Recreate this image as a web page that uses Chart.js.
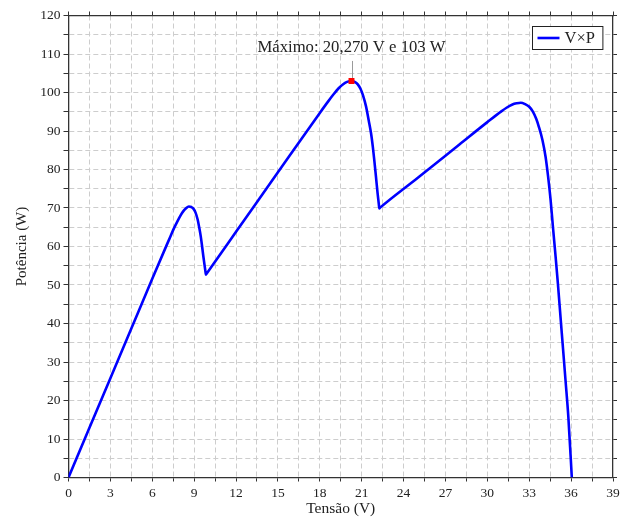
<!DOCTYPE html>
<html lang="pt">
<head>
<meta charset="utf-8">
<title>Curva P-V</title>
<script src="https://cdn.jsdelivr.net/npm/chart.js@4.4.0/dist/chart.umd.min.js"></script>
<style>
  html, body { margin: 0; padding: 0; background: #fff; }
  #wrap { width: 633px; height: 519px; }
</style>
</head>
<body>
<div id="wrap"><canvas id="pvChart" width="633" height="519"></canvas></div>
<script>
// curva potência x tensão do arranjo (sombreamento parcial, três picos)
const tensao = [
  0, 1.5, 3, 4.5, 6, 7, 7.3, 7.55, 7.8, 8.03, 8.2, 8.4, 8.62, 8.8, 8.93, 9.1, 9.25, 9.36, 9.47, 9.57, 9.66, 9.74, 9.82, 9.84, 9.9,
  12, 15, 18, 18.6, 19.0, 19.35, 19.65, 19.95, 20.27, 20.5, 20.72, 20.92, 21.1, 21.31, 21.5, 21.67, 21.8, 21.9, 22.02, 22.14, 22.23, 22.26, 22.32,
  25, 28, 30, 31, 31.4, 31.8, 32.1, 32.39, 32.7, 33.0, 33.25, 33.5, 33.69, 33.95, 34.17, 34.35, 34.53, 34.7, 34.89, 35.05, 35.24, 35.42, 35.6, 35.8, 36.05
];
const potencia = [
  0, 12.9, 25.8, 38.7, 51.6, 60.1, 62.6, 64.7, 66.55, 68.1, 69.05, 69.85, 70.4, 70.25, 69.9, 68.8, 67.0, 65.0, 62.7, 60.0, 57.4, 55.3, 53.2, 52.7, 53.0,
  63.8, 79.3, 94.7, 97.7, 99.6, 101.1, 102.1, 102.75, 103.0, 102.75, 102.1, 100.9, 99.2, 96.4, 92.8, 89.4, 85.8, 82.5, 78.2, 73.8, 70.9, 69.9, 70.1,
  77.8, 86.5, 92.3, 95.1, 96.1, 96.9, 97.2, 97.35, 97.0, 96.3, 95.1, 93.2, 91.1, 87.6, 83.3, 78.2, 72.1, 65.0, 57.3, 50.5, 41.7, 33.5, 25.2, 15.8, 0
];

// ponto de máxima potência
const maxTensao = 20.27;
const maxPotencia = 103;

// marcas rotuladas dos eixos
const xRotulos = [0, 3, 6, 9, 12, 15, 18, 21, 24, 27, 30, 33, 36, 39];
const yRotulos = [0, 10, 20, 30, 40, 50, 60, 70, 80, 90, 100, 110, 120];

const serif = "'Liberation Serif', 'Times New Roman', serif";
const corEixo = '#333333';
const corGrade = '#cdcdcd';

Chart.defaults.font.family = serif;
Chart.defaults.color = '#222222';

const fmt = v => String(v).replace('.', ',');

// legenda com moldura no canto superior direito
const legendaBox = {
  id: 'legendaBox',
  afterDraw(chart) {
    const { ctx, chartArea } = chart;
    const ds = chart.data.datasets[1];
    ctx.save();
    ctx.font = '16.5px ' + serif;
    const tw = ctx.measureText(ds.label).width;
    const w = 5 + 22 + 5 + tw + 8;
    const h = 23;
    const x0 = Math.round(chartArea.right - 11 - w) + 0.5;
    const y0 = Math.round(chartArea.top + 10) + 0.5;
    ctx.fillStyle = '#ffffff';
    ctx.fillRect(x0, y0, w, h);
    ctx.strokeStyle = '#222';
    ctx.lineWidth = 1;
    ctx.strokeRect(x0, y0, w, h);
    ctx.strokeStyle = ds.borderColor;
    ctx.lineWidth = 2.6;
    ctx.beginPath();
    ctx.moveTo(x0 + 5, y0 + h / 2);
    ctx.lineTo(x0 + 27, y0 + h / 2);
    ctx.stroke();
    ctx.fillStyle = '#222';
    ctx.textBaseline = 'middle';
    ctx.fillText(ds.label, x0 + 32, y0 + h / 2 + 1);
    ctx.restore();
  }
};

// rótulo do ponto de máxima potência
const rotuloMax = {
  id: 'rotuloMax',
  afterDatasetsDraw(chart) {
    const { ctx, scales } = chart;
    const px = scales.x.getPixelForValue(maxTensao);
    const py = scales.y.getPixelForValue(maxPotencia);
    ctx.save();
    ctx.strokeStyle = '#9a9a9a';
    ctx.lineWidth = 1;
    ctx.beginPath();
    ctx.moveTo(Math.round(px) + 0.5, py - 3);
    ctx.lineTo(Math.round(px) + 0.5, py - 20);
    ctx.stroke();
    ctx.font = '16.7px ' + serif;
    ctx.fillStyle = '#222';
    ctx.textAlign = 'center';
    ctx.textBaseline = 'alphabetic';
    ctx.fillText('Máximo: ' + maxTensao.toFixed(3).replace('.', ',') + ' V e ' + maxPotencia + ' W', px, py - 28.5);
    ctx.restore();
  }
};

const semBorda = (limite) => c => (c.tick && limite.includes(c.tick.value)) ? 'rgba(0,0,0,0)' : corGrade;

const ctx = document.getElementById('pvChart').getContext('2d');
new Chart(ctx, {
  type: 'line',
  data: {
    datasets: [{
      label: 'máximo',
      data: [{ x: maxTensao, y: maxPotencia }],
      showLine: false,
      pointStyle: 'rect',
      pointRadius: 4.2,
      pointBackgroundColor: '#ff0000',
      pointBorderWidth: 0,
      order: 0
    }, {
      label: 'V×P',
      data: tensao.map((v, i) => ({ x: v, y: potencia[i] })),
      borderColor: '#0000ff',
      borderWidth: 2.6,
      pointRadius: 0,
      cubicInterpolationMode: 'monotone',
      fill: false,
      order: 1
    }]
  },
  options: {
    responsive: false,
    animation: false,
    events: [],
    layout: { padding: 0 },
    plugins: {
      legend: { display: false },
      tooltip: { enabled: false }
    },
    scales: {
      x: {
        type: 'linear',
        position: 'bottom',
        min: 0,
        max: 39,
        afterFit: s => { s.height = 41.5; },
        border: { color: corEixo, width: 1.3, dash: [5, 3] },
        grid: { color: semBorda([0, 39]), lineWidth: 1, tickLength: 4, tickColor: corEixo, tickWidth: 1 },
        ticks: {
          stepSize: 1.5,
          autoSkip: false,
          maxRotation: 0,
          padding: 4,
          font: { size: 13.5 },
          callback: v => xRotulos.includes(v) ? fmt(v) : ''
        },
        title: { display: true, text: 'Tensão (V)', font: { size: 15.5 }, padding: { top: 0, bottom: 1 } }
      },
      x2: {
        type: 'linear',
        position: 'top',
        min: 0,
        max: 39,
        afterFit: s => { s.height = 15.5; },
        border: { color: corEixo, width: 1.3 },
        grid: { drawOnChartArea: false, tickLength: 4, tickColor: corEixo, tickWidth: 1 },
        ticks: { stepSize: 1.5, autoSkip: false, callback: () => '' }
      },
      y: {
        type: 'linear',
        position: 'left',
        min: 0,
        max: 120,
        afterFit: s => { s.width = 68.5; },
        border: { color: corEixo, width: 1.3, dash: [5, 3] },
        grid: { color: semBorda([0, 120]), lineWidth: 1, tickLength: 5, tickColor: corEixo, tickWidth: 1 },
        ticks: {
          stepSize: 5,
          autoSkip: false,
          padding: 3,
          font: { size: 13.5 },
          callback: v => yRotulos.includes(v) ? fmt(v) : ''
        },
        title: { display: true, text: 'Potência (W)', font: { size: 15 }, padding: { top: 13, bottom: 0 } }
      },
      y2: {
        type: 'linear',
        position: 'right',
        min: 0,
        max: 120,
        afterFit: s => { s.width = 20; },
        border: { color: corEixo, width: 1.3 },
        grid: { drawOnChartArea: false, tickLength: 4, tickColor: corEixo, tickWidth: 1 },
        ticks: { stepSize: 5, autoSkip: false, callback: () => '' }
      }
    }
  },
  plugins: [legendaBox, rotuloMax]
});
</script>
</body>
</html>
